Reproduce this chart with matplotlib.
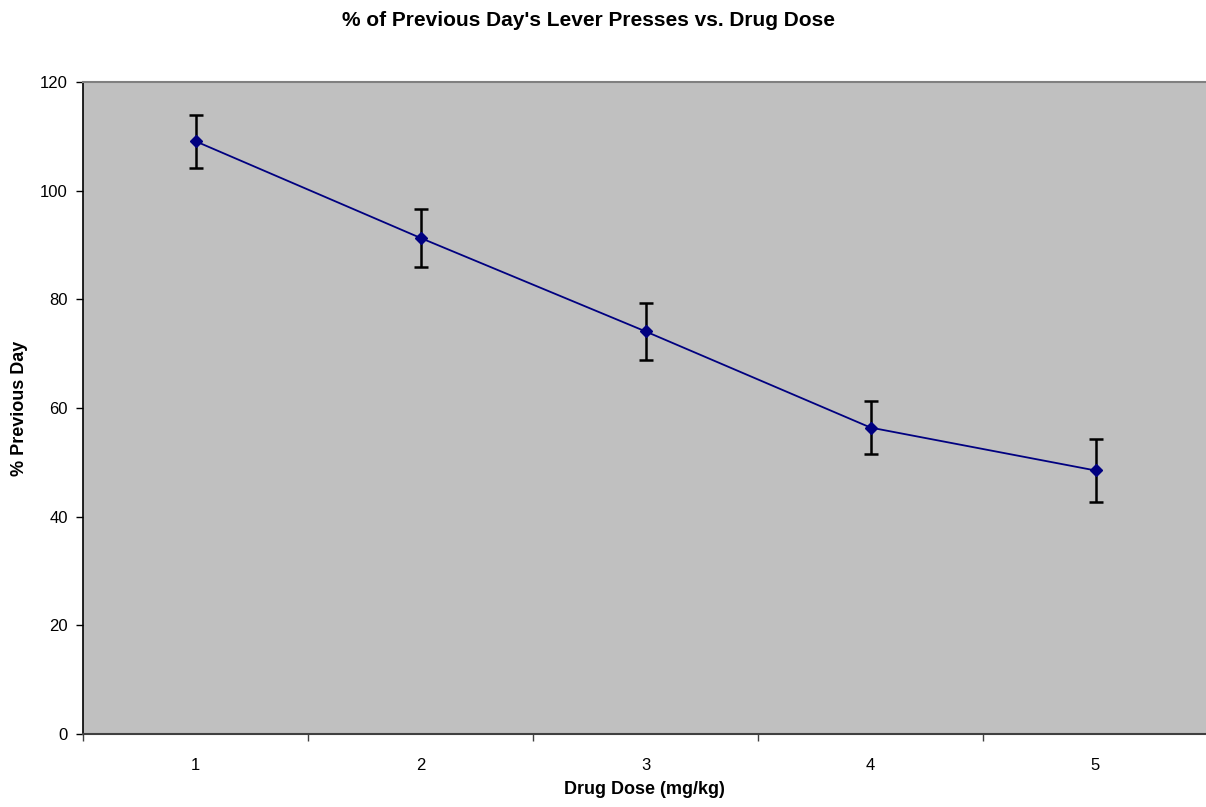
import matplotlib
matplotlib.use("Agg")
import matplotlib.pyplot as plt
from matplotlib.ticker import FixedLocator, NullFormatter, FixedFormatter

plt.rcParams['font.family'] = ['Liberation Sans', 'DejaVu Sans']

doses = [1, 2, 3, 4, 5]
values = [109.1, 91.3, 74.1, 56.4, 48.5]
errors = [4.9, 5.4, 5.3, 4.9, 5.8]
y_ticks = [0, 20, 40, 60, 80, 100, 120]

fig = plt.figure(figsize=(12.06, 8.07), dpi=100)
W, H = 1206, 807
left, right, top, bottom = 83, 1208, 82, 734
ax = fig.add_axes([left / W, 1 - bottom / H, (right - left) / W, (bottom - top) / H])
ax.set_facecolor('#c0c0c0')

ax.errorbar(doses, values, yerr=errors, color='#000080', lw=1.3, marker='D', ms=6.5,
            mfc='#000080', mec='#000080', ecolor='black', elinewidth=1.8, capsize=5,
            capthick=1.8, zorder=3)

ax.set_xlim(0.5, 5.5)
ax.set_ylim(0, 120)
ax.yaxis.set_major_locator(FixedLocator(y_ticks))
ax.xaxis.set_major_locator(FixedLocator([0.5, 1.5, 2.5, 3.5, 4.5, 5.5]))
ax.xaxis.set_major_formatter(NullFormatter())
ax.xaxis.set_minor_locator(FixedLocator(doses))
ax.xaxis.set_minor_formatter(FixedFormatter([str(d) for d in doses]))
ax.tick_params(axis='x', which='minor', length=0, pad=17, labelsize=12)
ax.tick_params(axis='x', which='major', length=5, direction='out', width=1, color='#404040')
ax.tick_params(axis='y', length=5, direction='out', width=1, labelsize=12, pad=6)

for s in ['top', 'right']:
    ax.spines[s].set_color('#808080')
    ax.spines[s].set_linewidth(1.5)
ax.spines['left'].set_color('black')
ax.spines['left'].set_linewidth(1.2)
ax.spines['bottom'].set_color('#404040')
ax.spines['bottom'].set_linewidth(1.5)

fig.text(644 / W, 1 - 790 / H, 'Drug Dose (mg/kg)', ha='center', va='center',
         fontsize=13, fontweight='bold')
fig.text(20 / W, 1 - 408 / H, '% Previous Day', ha='center', va='center',
         rotation=90, fontsize=13, fontweight='bold')
fig.text(589 / W, 1 - 21 / H, "% of Previous Day's Lever Presses vs. Drug Dose",
         ha='center', va='center', fontsize=15, fontweight='bold')

fig.savefig('out.png', dpi=100)
